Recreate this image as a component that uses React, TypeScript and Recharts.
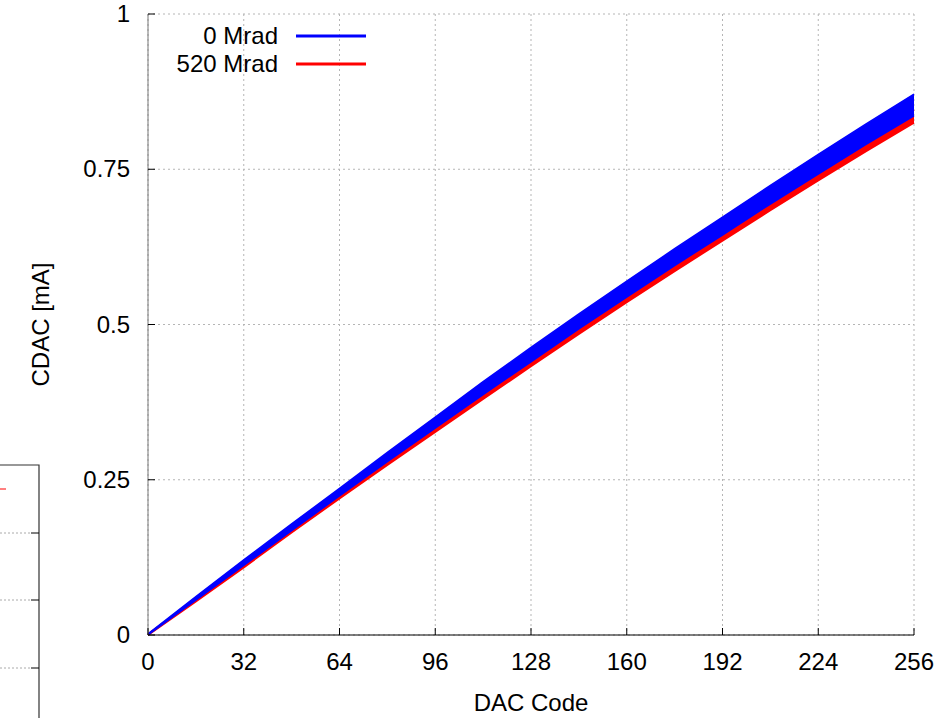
import React from "react";
import { ComposedChart, Area, XAxis, YAxis, CartesianGrid } from "recharts";

// DAC code samples and the spread of the curves
const codes = [0, 16, 32, 48, 64, 80, 96, 112, 128, 144, 160, 176, 192, 208, 224, 240, 256];
const blueHigh = [0.002, 0.062, 0.121, 0.179, 0.236, 0.294, 0.351, 0.408, 0.463, 0.517, 0.57, 0.622, 0.673, 0.724, 0.774, 0.823, 0.871];
const blueLow = [0, 0.056, 0.112, 0.168, 0.224, 0.279, 0.333, 0.387, 0.44, 0.493, 0.544, 0.595, 0.644, 0.694, 0.742, 0.79, 0.836];
const redHigh = [0.001, 0.058, 0.115, 0.172, 0.228, 0.284, 0.339, 0.394, 0.448, 0.501, 0.553, 0.604, 0.654, 0.704, 0.753, 0.801, 0.846];
const redLow = [0, 0.054, 0.109, 0.165, 0.22, 0.274, 0.327, 0.38, 0.433, 0.485, 0.536, 0.586, 0.635, 0.684, 0.732, 0.779, 0.825];

const xTicks = [0, 32, 64, 96, 128, 160, 192, 224, 256];
const yTicks = [0, 0.25, 0.5, 0.75, 1];

const data = codes.map((c, i) => ({
  code: c,
  blue: [blueLow[i], blueHigh[i]],
  red: [redLow[i], redHigh[i]],
}));

const FONT = "'Liberation Sans', Arial, sans-serif";
const FS = 24;
const TICK = 7;

const BottomTick = ({ x, y, payload }: any) => (
  <g>
    <line x1={x} y1={y} x2={x} y2={y - TICK} stroke="#000" />
    <text x={x} y={y + 35} textAnchor="middle" fontFamily={FONT} fontSize={FS} fill="#000">
      {payload.value}
    </text>
  </g>
);

const TopTick = ({ x, y }: any) => <line x1={x} y1={y} x2={x} y2={y + TICK} stroke="#000" />;

const LeftTick = ({ x, y, payload }: any) => (
  <g>
    <line x1={x} y1={y} x2={x + TICK} y2={y} stroke="#000" />
    <text x={x - 18} y={y + 8} textAnchor="end" fontFamily={FONT} fontSize={FS} fill="#000">
      {payload.value}
    </text>
  </g>
);

const RightTick = ({ x, y }: any) => <line x1={x} y1={y} x2={x - TICK} y2={y} stroke="#000" />;

const YTitle = ({ viewBox }: any) => {
  const cx = viewBox.x + 40;
  const cy = viewBox.y + viewBox.height / 2;
  return (
    <text x={cx} y={cy} transform={`rotate(-90 ${cx} ${cy})`} textAnchor="middle" dominantBaseline="central" fontFamily={FONT} fontSize={FS} fill="#000">
      CDAC [mA]
    </text>
  );
};

const XTitle = ({ viewBox }: any) => (
  <text x={viewBox.x + viewBox.width / 2} y={viewBox.y + 76} textAnchor="middle" fontFamily={FONT} fontSize={FS} fill="#000">
    DAC Code
  </text>
);

function ChartLegend() {
  const rows = [
    { name: "0 Mrad", color: "#0000ff", y: 36 },
    { name: "520 Mrad", color: "#ff0000", y: 64 },
  ];
  return (
    <svg width={937} height={90} style={{ position: "absolute", left: 0, top: 0, pointerEvents: "none" }}>
      {rows.map((r) => (
        <g key={r.name}>
          <text x={278} y={r.y + 8} textAnchor="end" fontFamily={FONT} fontSize={FS} fill="#000">
            {r.name}
          </text>
          <line x1={296} y1={r.y} x2={366} y2={r.y} stroke={r.color} strokeWidth={3} />
        </g>
      ))}
    </svg>
  );
}

// edge of the neighbouring figure that is cut off on the left
function NeighbourFragment() {
  return (
    <svg width={40} height={718} style={{ position: "absolute", left: 0, top: 0 }}>
      <polyline points="0,465 39,465 39,718" fill="none" stroke="#333" strokeWidth={1.2} />
      <line x1={0} y1={489} x2={6} y2={489} stroke="#ff0000" />
      {[533, 600, 668].map((y) => (
        <g key={y}>
          <line x1={0} y1={y} x2={30} y2={y} stroke="#aaa" strokeDasharray="2 2" />
          <line x1={31} y1={y} x2={39} y2={y} stroke="#000" />
        </g>
      ))}
    </svg>
  );
}

export default function App() {
  return (
    <div style={{ position: "absolute", left: 0, top: 0, width: 937, height: 718, background: "#fff" }}>
      <NeighbourFragment />
      <ComposedChart width={937} height={718} data={data} margin={{ top: 14, right: 23, bottom: 0, left: 0 }}>
        <CartesianGrid stroke="#b5b5b5" strokeDasharray="2 3" />
        <XAxis
          dataKey="code"
          type="number"
          domain={[0, 256]}
          ticks={xTicks}
          interval={0}
          height={83}
          tickSize={0}
          tickMargin={0}
          tickLine={false}
          axisLine={{ stroke: "#000" }}
          tick={<BottomTick />}
          label={<XTitle />}
        />
        <XAxis
          xAxisId="top"
          orientation="top"
          type="number"
          domain={[0, 256]}
          ticks={xTicks}
          interval={0}
          height={0}
          tickSize={0}
          tickMargin={0}
          tickLine={false}
          axisLine={{ stroke: "#555" }}
          tick={<TopTick />}
        />
        <YAxis
          type="number"
          domain={[0, 1]}
          ticks={yTicks}
          interval={0}
          width={148}
          tickSize={0}
          tickMargin={0}
          tickLine={false}
          axisLine={{ stroke: "#777" }}
          tick={<LeftTick />}
          label={<YTitle />}
        />
        <YAxis
          yAxisId="right"
          orientation="right"
          type="number"
          domain={[0, 1]}
          ticks={yTicks}
          interval={0}
          width={0}
          tickSize={0}
          tickMargin={0}
          tickLine={false}
          axisLine={{ stroke: "#555" }}
          tick={<RightTick />}
        />
        <Area type="linear" dataKey="red" stroke="#ff0000" strokeWidth={2} fill="#ff0000" fillOpacity={1} isAnimationActive={false} />
        <Area type="linear" dataKey="blue" stroke="#0000ff" strokeWidth={1.5} fill="#0000ff" fillOpacity={1} isAnimationActive={false} />
      </ComposedChart>
      <ChartLegend />
    </div>
  );
}
